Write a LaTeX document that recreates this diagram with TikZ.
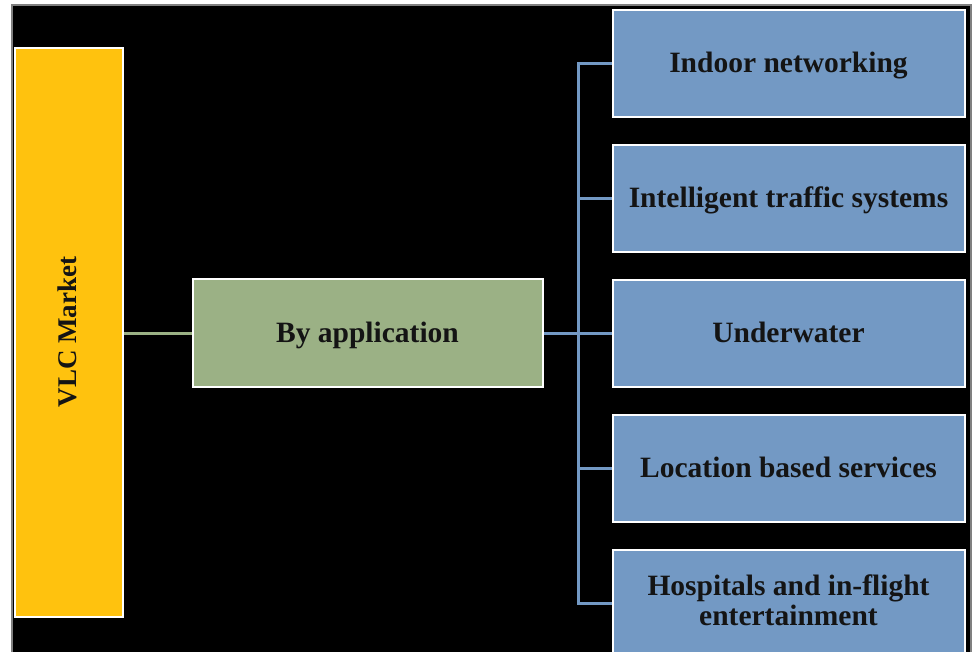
\documentclass[tikz,border=0pt]{standalone}
\usepackage{fontspec}
\setmainfont{Liberation Serif}
\definecolor{vlcyellow}{HTML}{FFC20E}
\definecolor{vlcgreen}{HTML}{9BB185}
\definecolor{vlcblue}{HTML}{7399C4}
\definecolor{vlctext}{HTML}{141414}
\begin{document}
\begin{tikzpicture}[x=1pt,y=-1pt,
  boxbase/.style={draw=white,line width=2pt,inner sep=0pt,text=vlctext,
    font=\bfseries\fontsize{29.5}{30}\selectfont,align=center,
    text height=19.5pt,text depth=0pt},
  rootbox/.style={boxbase,fill=vlcyellow,minimum width=108pt,minimum height=569pt},
  midbox/.style={boxbase,fill=vlcgreen,minimum width=350pt,minimum height=108pt},
  leafbox/.style={boxbase,fill=vlcblue,minimum width=352pt,minimum height=107pt},
  twoline/.style={text height=49.5pt,text depth=5.5pt},
  rootlabelstyle/.style={rotate=90,text=vlctext,font=\bfseries\fontsize{27}{30}\selectfont,
    inner sep=0pt,text height=18pt,text depth=0pt},
  greenline/.style={draw=vlcgreen,line width=3pt},
  blueline/.style={draw=vlcblue,line width=3pt}]
\useasboundingbox (0,0) rectangle (974,651);
\fill[white] (0,0) rectangle (974,651);
\draw[fill=black,draw=gray,line width=1.5pt] (12,5) rectangle (971,660);
\clip (0,0) rectangle (974,651);
% nodes
\node[rootbox] (root) at (68.5,332.5) {};
\node[rootlabelstyle] (rootlabel) at (67,332) {VLC Market};
\node[midbox] (app) at (367.5,333) {By application};
\node[leafbox] (l1) at (788.5,63) {Indoor networking};
\node[leafbox] (l2) at (788.5,198) {Intelligent traffic systems};
\node[leafbox] (l3) at (788.5,333) {Underwater};
\node[leafbox] (l4) at (788.5,468) {Location based services};
\node[leafbox,twoline] (l5) at (788.5,603) {Hospitals and in-flight\\entertainment};
\coordinate (bus) at (578,333);
% connectors
\draw[greenline] (root.east |- app.west) -- (app.west);
\draw[blueline] (app.east) -- (bus);
\draw[blueline] (l1.west) -| (bus);
\draw[blueline] (l5.west) -| (bus);
\draw[blueline] (l2.west) -- (l2.west -| bus);
\draw[blueline] (l3.west) -- (bus);
\draw[blueline] (l4.west) -- (l4.west -| bus);
% redraw boxes over line ends
\node[leafbox] at (l1) {Indoor networking};
\node[leafbox] at (l2) {Intelligent traffic systems};
\node[leafbox] at (l3) {Underwater};
\node[leafbox] at (l4) {Location based services};
\node[leafbox,twoline] at (l5) {Hospitals and in-flight\\entertainment};
\node[midbox] at (app) {By application};
\node[rootbox] at (root) {};
\node[rootlabelstyle] at (rootlabel) {VLC Market};
\end{tikzpicture}
\end{document}
